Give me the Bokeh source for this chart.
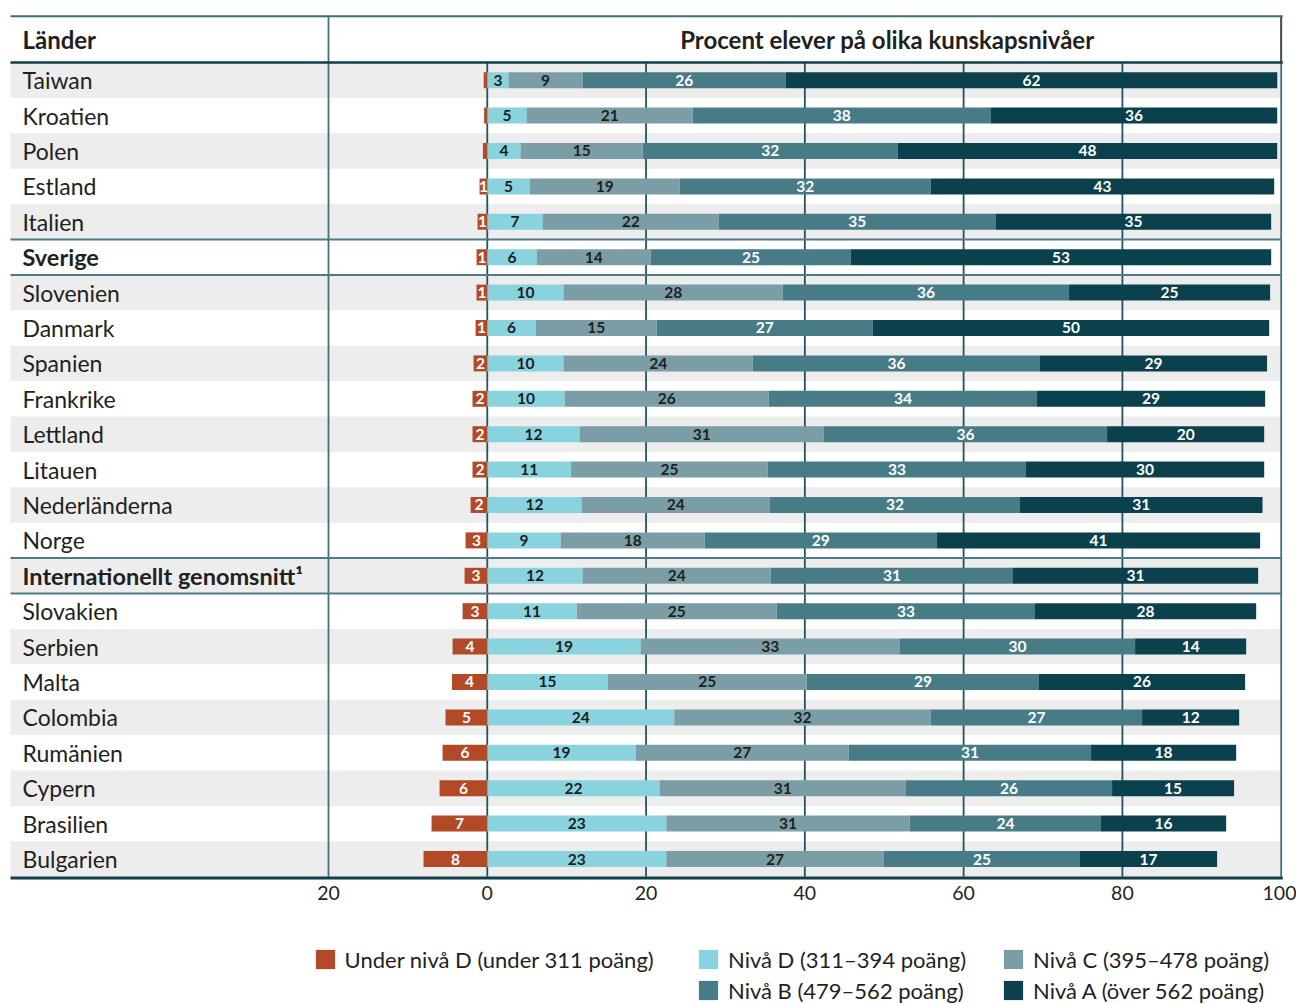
from bokeh.plotting import figure
from bokeh.models import Range1d, FixedTicker, Legend, LegendItem, LinearAxis
from bokeh.embed import file_html
from bokeh.resources import INLINE
from bokeh.core.properties import value

# ---------------- data ----------------
countries = ["Taiwan", "Kroatien", "Polen", "Estland", "Italien", "Sverige", "Slovenien",
             "Danmark", "Spanien", "Frankrike", "Lettland", "Litauen", "Nederländerna",
             "Norge", "Internationellt genomsnitt¹", "Slovakien", "Serbien", "Malta",
             "Colombia", "Rumänien", "Cypern", "Brasilien", "Bulgarien"]
bold_countries = ["Sverige", "Internationellt genomsnitt¹"]

under_d = [0.45, 0.4, 0.55, 0.97, 1.22, 1.35, 1.35, 1.47, 1.73, 1.86, 1.86, 1.86, 2.1,
           2.74, 2.86, 3.11, 4.37, 4.45, 5.26, 5.63, 6.01, 7.02, 8.03]
niva_d = [2.68, 4.95, 4.2, 5.33, 6.97, 6.21, 9.6, 6.09, 9.6, 9.74, 11.63, 10.55, 11.89,
          9.24, 12.01, 11.26, 19.32, 15.16, 23.55, 18.69, 21.72, 22.55, 22.55]
niva_c = [9.33, 20.93, 15.38, 18.91, 22.19, 14.4, 27.62, 15.25, 23.84, 25.72, 30.76, 24.78,
          23.7, 18.15, 23.7, 25.21, 32.65, 25.09, 32.33, 26.85, 31.01, 30.68, 27.41]
niva_b = [25.6, 37.56, 32.14, 31.6, 34.91, 25.19, 36.06, 27.23, 36.18, 33.78, 35.68, 32.53,
          31.51, 29.25, 30.51, 32.52, 29.63, 29.24, 26.6, 30.51, 25.97, 24.08, 24.7]
niva_a = [61.9, 36.06, 47.78, 43.28, 34.67, 52.94, 25.33, 49.92, 28.6, 28.74, 19.79, 30.0,
          30.55, 40.71, 30.88, 27.86, 13.99, 25.97, 12.23, 18.28, 15.37, 15.76, 17.27]

level_labels = ["Under nivå D (under 311 poäng)", "Nivå D (311–394 poäng)",
                "Nivå C (395–478 poäng)", "Nivå B (479–562 poäng)", "Nivå A (över 562 poäng)"]
level_colors = ["#b24a27", "#88d3dd", "#7b9ea6", "#477c87", "#0b414c"]
label_colors = ["white", "#1e1e1e", "#1e1e1e", "white", "white"]

tick_values = [-20, 0, 20, 40, 60, 80, 100]
tick_labels = ["20", "0", "20", "40", "60", "80", "100"]
grid_values = [0, 20, 40, 60, 80]

header_left = "Länder"
header_right = "Procent elever på olika kunskapsnivåer"

FONT = "Lato"
TEXT_COLOR = "#231f20"

# ---------------- figure ----------------
p = figure(width=1296, height=1004, x_range=Range1d(-61.315, 101.93),
           y_range=Range1d(26.11, -2.251), output_backend="svg", toolbar_location=None,
           x_axis_location=None, y_axis_location=None, min_border=0)
p.outline_line_color = None
p.background_fill_color = "white"
p.border_fill_color = "white"
p.xgrid.visible = False
p.ygrid.visible = False

n = len(countries)
rows = list(range(n))
TABLE_LEFT = -60.055
TABLE_TOP = -1.805
HEAD_BOTTOM = -0.5
TABLE_BOTTOM = n - 0.5

# zebra bands
band_rows = [i for i in rows if i % 2 == 0]
p.hbar(y=band_rows, left=TABLE_LEFT, right=100, height=1.0, fill_color="#ededed",
       line_color=None)

# vertical grid lines
p.segment(x0=grid_values, y0=HEAD_BOTTOM, x1=grid_values, y1=TABLE_BOTTOM,
          line_color="#23535e", line_width=1.8)
# column divider at -20 and right border
p.segment(x0=[-20, 100], y0=TABLE_TOP, x1=[-20, 100], y1=TABLE_BOTTOM,
          line_color="#46717a", line_width=1.8)
p.segment(x0=[100], y0=TABLE_TOP, x1=[100], y1=HEAD_BOTTOM,
          line_color="#4a4a4a", line_width=1.8)

# separators around Sverige and international average
sep_y = []
for name in bold_countries:
    i = countries.index(name)
    sep_y += [i - 0.5, i + 0.5]
p.segment(x0=TABLE_LEFT, y0=sep_y, x1=100, y1=sep_y, line_color="#4e7b85", line_width=2)

# stacked bars
BAR_H = 0.452
series = [under_d, niva_d, niva_c, niva_b, niva_a]
renderers = []
lefts_all, rights_all = [], []
neg = [-u for u in under_d]
r0 = p.hbar(y=rows, left=neg, right=0, height=BAR_H,
            fill_color=level_colors[0], line_color=None)
renderers.append(r0)
lefts_all.append(neg)
rights_all.append([0.0] * n)
cum = [0.0] * n
for k, vals in enumerate(series[1:], start=1):
    left = cum[:]
    right = [c + v for c, v in zip(cum, vals)]
    r = p.hbar(y=rows, left=left, right=right, height=BAR_H,
               fill_color=level_colors[k], line_color=None)
    renderers.append(r)
    lefts_all.append(left)
    rights_all.append(right)
    cum = right

# value labels
for k, vals in enumerate(series):
    xs, ys, ts = [], [], []
    for i, v in enumerate(vals):
        if k == 0 and v < 0.75:
            continue
        xs.append((lefts_all[k][i] + rights_all[k][i]) / 2)
        ys.append(i)
        ts.append(str(int(v + 0.5)))
    p.text(x=xs, y=ys, text=ts, text_align="center", text_baseline="middle",
           text_font=value(FONT), text_font_size="15.5px", text_color=label_colors[k],
           text_font_style="bold")

# country names
name_x = -58.544
normal_rows = [i for i in rows if countries[i] not in bold_countries]
bold_rows = [i for i in rows if countries[i] in bold_countries]
p.text(x=name_x, y=normal_rows, text=[countries[i] for i in normal_rows],
       text_baseline="middle", text_font=value(FONT), text_font_size="23px",
       text_color=TEXT_COLOR)
p.text(x=name_x, y=bold_rows, text=[countries[i] for i in bold_rows],
       text_baseline="middle", text_font=value(FONT), text_font_size="23.5px",
       text_font_style="bold", text_color=TEXT_COLOR)

# headers
p.text(x=[name_x], y=[-1.16], text=[header_left], text_baseline="middle",
       text_font=value(FONT), text_font_size="24px", text_font_style="bold",
       text_color=TEXT_COLOR)
p.text(x=[50.4], y=[-1.16], text=[header_right], text_baseline="middle", text_align="center",
       text_font=value(FONT), text_font_size="24px", text_font_style="bold",
       text_color=TEXT_COLOR)

# table rules
p.segment(x0=[TABLE_LEFT], y0=[TABLE_TOP], x1=[100.2], y1=[TABLE_TOP],
          line_color="#3f6f78", line_width=2)
p.segment(x0=[TABLE_LEFT], y0=[HEAD_BOTTOM], x1=[100.2], y1=[HEAD_BOTTOM],
          line_color="#0f3f49", line_width=2.5)
p.segment(x0=[TABLE_LEFT], y0=[TABLE_BOTTOM + 0.04], x1=[100.2], y1=[TABLE_BOTTOM + 0.04],
          line_color="#0f3f49", line_width=3)

# x axis (absolute values on both sides of zero)
xaxis = LinearAxis(ticker=FixedTicker(ticks=tick_values),
                   major_label_overrides=dict(zip(tick_values, tick_labels)),
                   fixed_location=TABLE_BOTTOM + 0.05,
                   axis_line_color=None, major_tick_line_color=None,
                   minor_tick_line_color=None,
                   major_label_text_font=FONT, major_label_text_font_size="19.5px",
                   major_label_text_color=TEXT_COLOR, major_label_standoff=2)
p.add_layout(xaxis, "below")

# legends (one per entry, placed on a 3-column grid)
legend_pos = [(312.6, 31), (696, 31), (1001, 31), (696, 0), (1001, 0)]
for k, (lx, ly) in enumerate(legend_pos):
    lg = Legend(items=[LegendItem(label=level_labels[k], renderers=[renderers[k]])],
                location=(lx, ly), orientation="horizontal",
                glyph_width=24, glyph_height=24, label_standoff=8,
                label_height=28,
                label_text_font=FONT, label_text_font_size="22px",
                label_text_color=TEXT_COLOR, padding=0, margin=0, spacing=0,
                border_line_color=None, background_fill_alpha=0)
    p.add_layout(lg, "center")

open("out.html", "w").write(file_html(p, INLINE))
